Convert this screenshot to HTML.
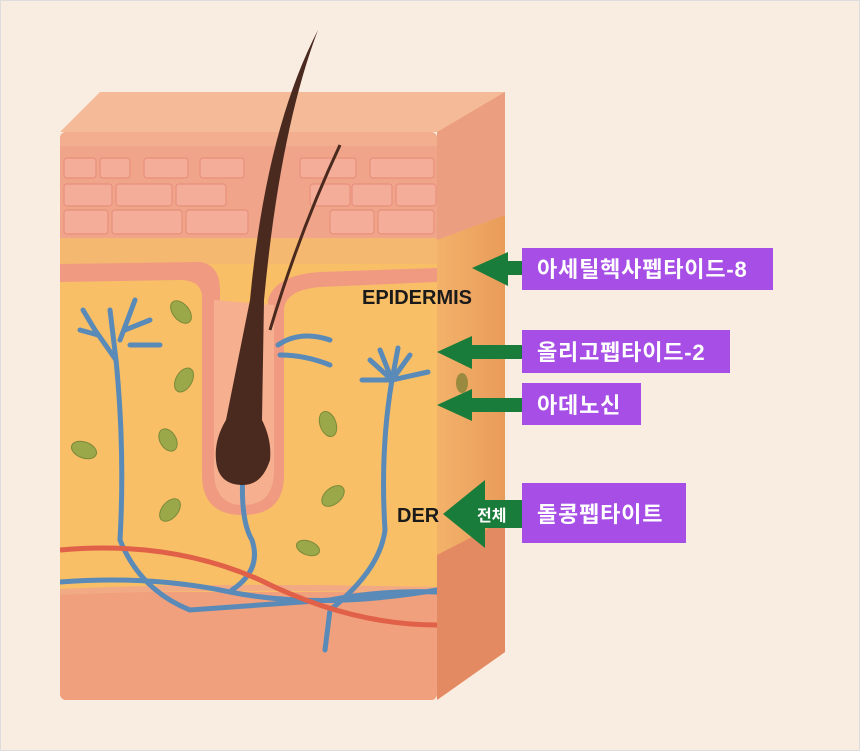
<!DOCTYPE html>
<html><head><meta charset="utf-8"><style>
html,body{margin:0;padding:0;background:#f9ede2;}
svg{display:block}
text{font-family:"Liberation Sans","Noto Sans CJK KR",sans-serif;}
</style></head><body>
<svg width="860" height="751" viewBox="0 0 860 751" xmlns="http://www.w3.org/2000/svg">
<defs>
<clipPath id="front"><rect x="60" y="132" width="377" height="568" rx="6"/></clipPath>
<linearGradient id="rf" x1="0" x2="1"><stop offset="0" stop-color="#f3b26a"/><stop offset="1" stop-color="#e99c5a"/></linearGradient>
</defs>
<rect x="0.5" y="0.5" width="859" height="750" fill="#f9ede2" stroke="#ddd"/>
<polygon points="60,132 100,92 505,92 437,132" fill="#f5bb98"/>
<polygon points="437,132 505,92 505,652 437,700" fill="url(#rf)"/>
<polygon points="437,132 505,92 505,215 437,240" fill="#ec9f80"/>
<polygon points="437,555 505,520 505,652 437,700" fill="#e48a62"/>
<g clip-path="url(#front)">
<rect x="60" y="132" width="377" height="568" fill="#f8bf66"/>
<rect x="60" y="132" width="377" height="106" fill="#f0a48a"/>
<rect x="60" y="132" width="377" height="14" fill="#f3ae90"/>
<g fill="#f4ad98" stroke="#e8907c" stroke-width="1.2">
<rect x="64" y="158" width="32" height="20" rx="3"/><rect x="100" y="158" width="30" height="20" rx="3"/><rect x="144" y="158" width="44" height="20" rx="3"/><rect x="200" y="158" width="44" height="20" rx="3"/><rect x="300" y="158" width="56" height="20" rx="3"/><rect x="370" y="158" width="64" height="20" rx="3"/>
<rect x="64" y="184" width="48" height="22" rx="3"/><rect x="116" y="184" width="56" height="22" rx="3"/><rect x="176" y="184" width="50" height="22" rx="3"/><rect x="310" y="184" width="40" height="22" rx="3"/><rect x="352" y="184" width="40" height="22" rx="3"/><rect x="396" y="184" width="40" height="22" rx="3"/>
<rect x="64" y="210" width="44" height="24" rx="3"/><rect x="112" y="210" width="70" height="24" rx="3"/><rect x="186" y="210" width="62" height="24" rx="3"/><rect x="330" y="210" width="44" height="24" rx="3"/><rect x="378" y="210" width="56" height="24" rx="3"/>
</g>
<rect x="60" y="238" width="377" height="26" fill="#f5b870"/>
<path d="M60,264 L200,262 Q220,265 220,290 L220,470 Q220,500 243,500 Q268,500 268,470 L268,300 Q275,275 320,272 L437,268 L437,282 L320,287 Q285,290 284,310 L284,475 Q284,515 243,515 Q202,515 202,475 L202,295 Q200,280 180,280 L60,282 Z" fill="#f09a82"/>
<path d="M214,300 L214,470 Q214,505 243,505 Q274,505 274,470 L274,305 Z" fill="#f6b090"/>
<rect x="60" y="592" width="377" height="110" fill="#f0a07c"/>
<path d="M60,592 Q200,585 437,590" stroke="#f2aa85" stroke-width="6" fill="none"/>
<g stroke="#5a8ab8" stroke-width="5" fill="none" stroke-linecap="round">
<path d="M243,470 Q240,520 252,540 Q262,570 232,590"/>
<path d="M116,360 Q125,450 120,540 Q140,590 190,610 L330,600 Q380,590 437,592"/>
<path d="M116,360 L95,330 L83,310 M116,360 L110,310 M120,340 L135,300 M125,330 L150,320 M130,345 L160,345 M98,335 L80,330"/>
<path d="M392,380 Q380,450 385,530 Q380,570 330,610 L325,650"/>
<path d="M392,380 L370,360 M392,380 L380,350 M392,380 L398,348 M392,380 L410,355 M392,380 L428,372 M392,380 L362,380"/>
<path d="M60,582 Q150,575 230,592 Q320,610 437,590"/>
<path d="M278,345 Q300,330 330,340 M280,355 Q305,355 330,365"/>
</g>
<path d="M60,550 Q170,540 260,580 Q350,625 437,625" stroke="#e06048" stroke-width="5" fill="none"/>
<g fill="#9aa84a" stroke="#7a8a38">
<ellipse cx="181" cy="312" rx="8" ry="13" transform="rotate(-40 181 312)"/>
<ellipse cx="184" cy="380" rx="8" ry="13" transform="rotate(30 184 380)"/>
<ellipse cx="168" cy="440" rx="8" ry="12" transform="rotate(-30 168 440)"/>
<ellipse cx="84" cy="450" rx="8" ry="13" transform="rotate(-70 84 450)"/>
<ellipse cx="170" cy="510" rx="8" ry="13" transform="rotate(40 170 510)"/>
<ellipse cx="328" cy="424" rx="8" ry="13" transform="rotate(-20 328 424)"/>
<ellipse cx="333" cy="496" rx="8" ry="13" transform="rotate(50 333 496)"/>
<ellipse cx="308" cy="548" rx="7" ry="12" transform="rotate(-70 308 548)"/>
</g>
</g>
<path d="M318,30 Q280,130 264,300 L262,420 Q272,440 270,460 Q262,485 243,485 Q218,485 216,460 Q214,440 226,420 L250,300 Q266,130 318,30 Z" fill="#4a2a1e"/>
<path d="M340,145 Q300,230 270,330" stroke="#4a2a1e" stroke-width="3" fill="none"/>
<ellipse cx="462" cy="383" rx="6" ry="10" fill="#9a8a40"/>
<text x="362" y="304" font-size="20" font-weight="bold" fill="#1a1a1a">EPIDERMIS</text>
<text x="397" y="522" font-size="20" font-weight="bold" fill="#1a1a1a">DER</text>
<g fill="#1a7c3a">
<rect x="500" y="261" width="24" height="14"/><polygon points="472,268 508,252 508,286"/>
<rect x="468" y="345" width="56" height="14"/><polygon points="437,352 472,336 472,369"/>
<rect x="468" y="398" width="56" height="14"/><polygon points="437,405 472,389 472,421"/>
<rect x="470" y="500" width="54" height="28"/><polygon points="443,514 485,480 485,548"/>
</g>
<text x="477" y="521" font-size="16" font-weight="bold" fill="#fff">전체</text>
<g fill="#a64ee6">
<rect x="522" y="248" width="251" height="42"/>
<rect x="522" y="330" width="208" height="43"/>
<rect x="522" y="383" width="119" height="42"/>
<rect x="522" y="483" width="164" height="60"/>
</g>
<g fill="#fff" font-size="22" font-weight="bold" letter-spacing="0.8">
<text x="537" y="277">아세틸헥사펩타이드-8</text>
<text x="537" y="360">올리고펩타이드-2</text>
<text x="537" y="413">아데노신</text>
<text x="537" y="522">돌콩펩타이트</text>
</g>
</svg>
</body></html>
